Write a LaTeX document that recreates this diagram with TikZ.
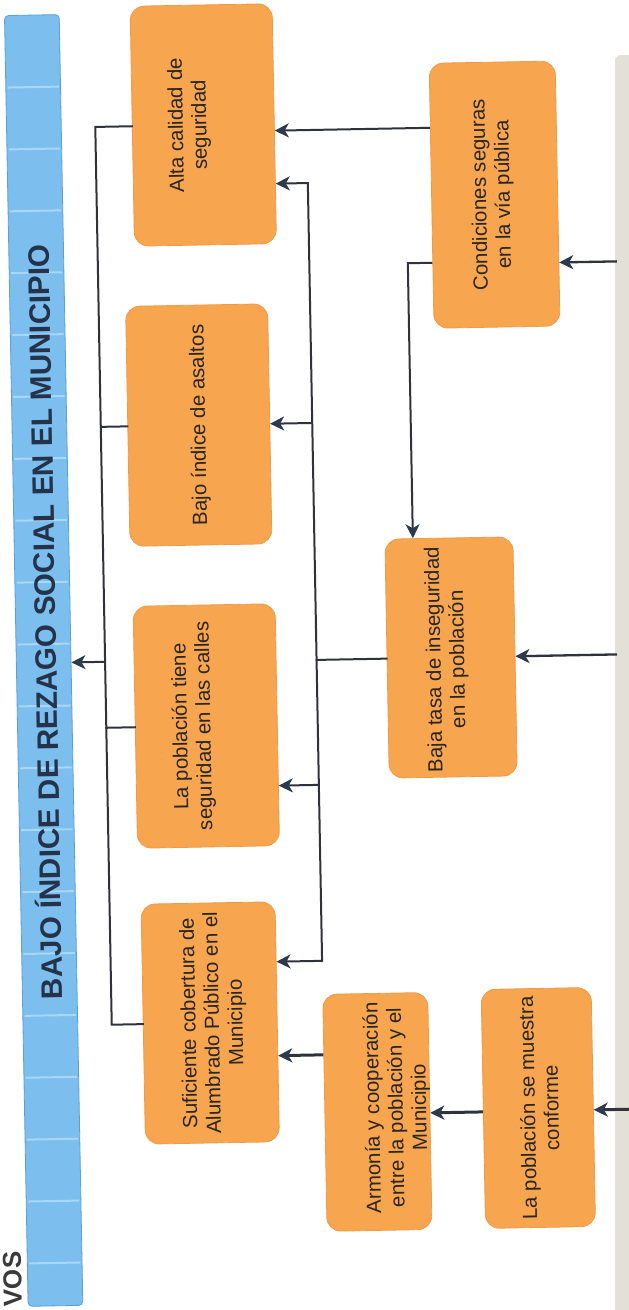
\documentclass[tikz,border=0pt]{standalone}
\usepackage{fontspec}
\setmainfont{Liberation Sans}
\usetikzlibrary{arrows.meta,calc}
\definecolor{boxfill}{HTML}{F8A550}
\definecolor{boxdraw}{HTML}{EE9B48}
\definecolor{boxtext}{HTML}{2A2622}
\definecolor{bannerfill}{HTML}{7CBEEE}
\definecolor{bannerdraw}{HTML}{5C9FD6}
\definecolor{stripecol}{HTML}{A9D7F6}
\definecolor{titlecol}{HTML}{24324A}
\definecolor{linecol}{HTML}{30343A}
\definecolor{headcol}{HTML}{2C3A4C}
\definecolor{panelcol}{HTML}{E3E0D7}
\definecolor{voscol}{HTML}{3A3A3A}
\begin{document}
\begin{tikzpicture}[x=1pt,y=-1pt,
  box/.style={draw=boxdraw, line width=0.8pt, fill=boxfill, rounded corners=14pt, inner sep=0pt},
  boxlabel/.style={rotate=90, align=center, text=boxtext, font={\fontsize{20.5}{23.5}\selectfont}, inner sep=0pt},
  conn/.style={draw=linecol, line width=2pt, line cap=rect},
  arr/.style={draw=linecol, line width=2pt, -{Stealth[length=14pt,width=14pt,inset=4pt,color=headcol]}},
  inarr/.style={arr, line width=2.3pt},
  thickarr/.style={arr, line width=3pt},
  stripe/.style={draw=stripecol, line width=2pt}
]
\useasboundingbox (0,0) rectangle (629,1310);
\clip (0,0) rectangle (629,1310);
\fill[white] (0,0) rectangle (629,1310);
% right-hand neighbouring panel
\fill[panelcol, rounded corners=6pt] (615,55) rectangle (660,1340);

\begin{scope}[rotate around={1.05:(314,655)}, transform shape]
% banner
\node[draw=bannerdraw, fill=bannerfill, line width=0.8pt, rounded corners=4pt,
      minimum width=54.7pt, minimum height=1291pt, inner sep=0pt] (T) at (43.6,655.5) {};
\foreach \k in {0,...,19} \draw[stripe] (18,{82+61.9*\k}) -- (69.5,{82+61.9*\k});
\node[rotate=90, text=titlecol, inner sep=0pt, font={\fontsize{29.6}{34}\selectfont\bfseries}] (Tt) at (43.5,617) {BAJO ÍNDICE DE REZAGO SOCIAL EN EL MUNICIPIO};
\node[rotate=90, anchor=base east, text=voscol, inner sep=0pt, font={\fontsize{26}{30}\selectfont\bfseries}] (vos) at (10,1246) {VOS};

% boxes
\node[box, minimum width=142pt, minimum height=240pt] (A) at (213,123) {};
\node[boxlabel] (At) at (199,123) {Alta calidad de\\seguridad};
\node[box, minimum width=142pt, minimum height=240pt] (B) at (203,423) {};
\node[boxlabel] (Bt) at (204,423) {Bajo índice de asaltos};
\node[box, minimum width=142pt, minimum height=242pt] (E) at (205,724) {};
\node[boxlabel] (Et) at (192,724) {La población tiene\\seguridad en las calles};
\node[box, minimum width=134pt, minimum height=240pt] (F) at (203.5,1021) {};
\node[boxlabel] (Ft) at (207,1021) {Suficiente cobertura de\\Alumbrado Público en el\\Municipio};
\node[box, minimum width=126pt, minimum height=265pt] (C) at (503,198) {};
\node[boxlabel] (Ct) at (501,198) {Condiciones seguras\\en la vía pública};
\node[box, minimum width=128pt, minimum height=239pt] (D) at (451,660) {};
\node[boxlabel] (Dt) at (447,662) {Baja tasa de inseguridad\\en la población};
\node[box, minimum width=105pt, minimum height=237pt] (G) at (369,1113) {};
\node[boxlabel] (Gt) at (389,1109) {Armonía y cooperación\\entre la población y el\\Municipio};
\node[box, minimum width=110pt, minimum height=239pt] (H) at (530,1112) {};
\node[boxlabel] (Ht) at (531,1112) {La población se muestra\\conforme};

% left collector
\coordinate (Lx) at (105,658);
\draw[conn] (A.west) -- (A.west -| Lx) -- (F.west -| Lx) -- (F.west);
\draw[conn] (B.west) -- (B.west -| Lx);
\draw[conn] (E.west) -- (E.west -| Lx);
\draw[arr] (Lx) -- (Lx -| T.east);

% right collector
\coordinate (Ra) at (316.5,183);
\coordinate (Re) at (316.5,785);
\coordinate (Rf) at (316.5,961);
\draw[conn] (Ra) -- (Rf);
\draw[arr] (Ra) -- (Ra -| A.east);
\draw[arr] (B.east -| Ra) -- (B.east);
\draw[arr] (Re) -- (Re -| E.east);
\draw[arr] (Rf) -- (Rf -| F.east);
\draw[conn] (D.west) -- (D.west -| Ra);

% C to A and C to D
\coordinate (ya) at (0,130);
\draw[arr] (C.west |- ya) -- (A.east |- ya);
\coordinate (Cd) at (415,265);
\draw[arr] (C.west |- Cd) -- (Cd) -- (Cd |- D.north);

% inputs from the right panel
\coordinate (inC) at (624,267);
\coordinate (inD) at (617,660);
\coordinate (inH) at (622,1115);
\draw[inarr] (inC) -- (inC -| C.east);
\draw[inarr] (inD) -- (inD -| D.east);
\draw[thickarr] (inH) -- (inH -| H.east);
\draw[thickarr] (H.west |- inH) -- (G.east |- inH);
\coordinate (yg) at (0,1055);
\draw[thickarr] (G.west |- yg) -- (F.east |- yg);
\end{scope}
\end{tikzpicture}
\end{document}
